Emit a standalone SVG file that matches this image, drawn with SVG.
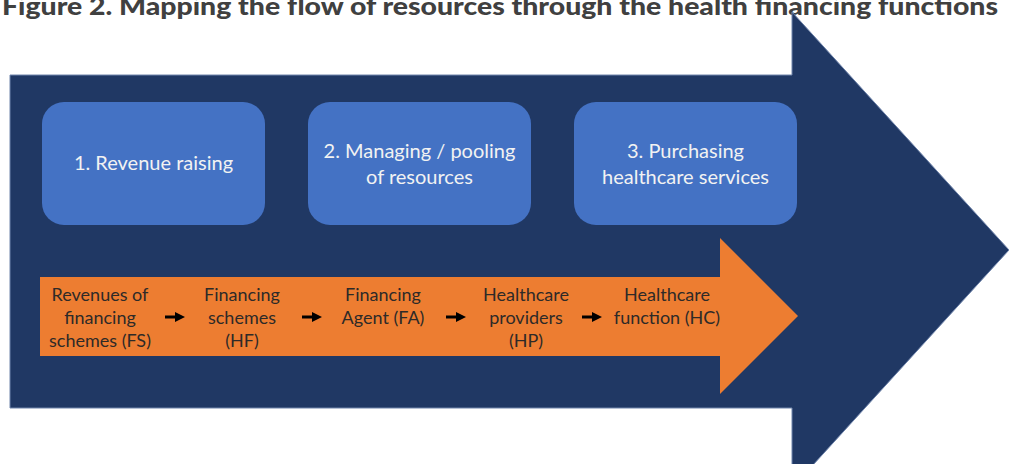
<svg xmlns="http://www.w3.org/2000/svg" width="1009" height="464" viewBox="0 0 1009 464">
  <style>
    .title { font-family: Lato, "Open Sans", "Liberation Sans", sans-serif; font-weight: 900; font-size: 25px; fill: #404040; }
    .stage { fill: #4472C4; }
    .stage-text { font-family: Lato, "Open Sans", "Liberation Sans", sans-serif; font-size: 20px; fill: #f2f2f2; text-anchor: middle; }
    .flow-text { font-family: Lato, "Open Sans", "Liberation Sans", sans-serif; font-size: 18px; fill: #2e2a28; text-anchor: middle; }
    .step { stroke: #000; stroke-width: 3; fill: none; }
    .step-head { fill: #000; }
  </style>

  <rect width="1009" height="464" fill="#ffffff"/>

  <!-- heading -->
  <text class="title" x="2" y="15" textLength="996" lengthAdjust="spacingAndGlyphs">Figure 2. Mapping the flow of resources through the health financing functions</text>

  <!-- large background arrow -->
  <g id="main-arrow">
    <polygon points="10,75 792,75 792,12 1009,250 792,488 792,408 10,408" fill="#203864" stroke="#6f84ab" stroke-width="1"/>
  </g>

  <!-- health financing functions -->
  <g id="stage-revenue">
    <rect class="stage" x="42" y="102" width="223" height="123" rx="22"/>
    <text class="stage-text" x="153.5" y="170">1. Revenue raising</text>
  </g>
  <g id="stage-pooling">
    <rect class="stage" x="308" y="102" width="223" height="123" rx="22"/>
    <text class="stage-text" x="419.5" y="158">2. Managing / pooling</text>
    <text class="stage-text" x="419.5" y="184">of resources</text>
  </g>
  <g id="stage-purchasing">
    <rect class="stage" x="574" y="102" width="223" height="123" rx="22"/>
    <text class="stage-text" x="685.5" y="158">3. Purchasing</text>
    <text class="stage-text" x="685.5" y="184">healthcare services</text>
  </g>

  <!-- orange flow arrow -->
  <g id="flow-arrow">
    <polygon points="40,277 720,277 720,238 798,316 720,394 720,356 40,356" fill="#ED7D31"/>
  </g>

  <!-- classification labels along the flow -->
  <g id="node-fs">
    <text class="flow-text" x="100" y="301">Revenues of</text>
    <text class="flow-text" x="100" y="324">financing</text>
    <text class="flow-text" x="100" y="347">schemes (FS)</text>
  </g>
  <g id="node-hf">
    <text class="flow-text" x="242" y="301">Financing</text>
    <text class="flow-text" x="242" y="324">schemes</text>
    <text class="flow-text" x="242" y="347">(HF)</text>
  </g>
  <g id="node-fa">
    <text class="flow-text" x="383" y="301">Financing</text>
    <text class="flow-text" x="383" y="324">Agent (FA)</text>
  </g>
  <g id="node-hp">
    <text class="flow-text" x="526" y="301">Healthcare</text>
    <text class="flow-text" x="526" y="324">providers</text>
    <text class="flow-text" x="526" y="347">(HP)</text>
  </g>
  <g id="node-hc">
    <text class="flow-text" x="667" y="301">Healthcare</text>
    <text class="flow-text" x="667" y="324">function (HC)</text>
  </g>

  <!-- step connectors -->
  <g id="connectors">
    <line class="step" x1="165" y1="317" x2="177" y2="317"/>
    <polygon class="step-head" points="175,312 185,317 175,322"/>
    <line class="step" x1="302" y1="317" x2="314" y2="317"/>
    <polygon class="step-head" points="312,312 322,317 312,322"/>
    <line class="step" x1="446" y1="317" x2="458" y2="317"/>
    <polygon class="step-head" points="456,312 466,317 456,322"/>
    <line class="step" x1="582" y1="317" x2="594" y2="317"/>
    <polygon class="step-head" points="592,312 602,317 592,322"/>
  </g>
</svg>
